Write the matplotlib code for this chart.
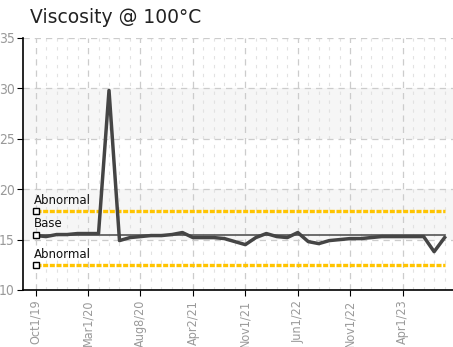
import numpy as np
import matplotlib.pyplot as plt
from matplotlib.ticker import MultipleLocator

# Data
viscosity = [15.4, 15.3, 15.5, 15.5, 15.6, 15.6, 15.6, 29.8, 14.9, 15.2,
             15.3, 15.4, 15.4, 15.5, 15.7, 15.2, 15.2, 15.2, 15.1, 14.8,
             14.5, 15.2, 15.6, 15.3, 15.2, 15.7, 14.8, 14.6, 14.9, 15.0,
             15.1, 15.1, 15.2, 15.3, 15.3, 15.3, 15.3, 15.3, 13.8, 15.2]
tick_labels = ["Oct1/19", "Mar1/20", "Aug8/20", "Apr2/21",
               "Nov1/21", "Jun1/22", "Nov1/22", "Apr1/23"]
base = 15.5
abnormal_high = 17.8
abnormal_low = 12.5

x = np.arange(len(viscosity))

fig = plt.figure(figsize=(4.53, 3.47), dpi=100)
ax = fig.add_axes([0.0508, 0.1643, 0.9492, 0.7262])

# alternating bands
for lo, hi in [(15, 20), (25, 30)]:
    ax.axhspan(lo, hi, color="#f6f6f6", zorder=0, lw=0)

ax.set_xlim(-1.2, 39.8)
ax.set_ylim(10, 35)
ax.yaxis.set_major_locator(MultipleLocator(5))
ax.set_xticks(x[::5])
ax.set_xticklabels(tick_labels, rotation=90, color="#999999",
                   fontsize=9, fontstretch="condensed")
ax.set_xticks(x, minor=True)
ax.set_yticks([10, 15, 20, 25, 30, 35])
ax.set_yticklabels(["10", "15", "20", "25", "30", "35"], color="#999999",
                   fontsize=10, fontstretch="condensed")
ax.tick_params(axis="y", length=4, color="black", pad=2)
ax.tick_params(axis="x", which="major", length=4, color="black", pad=3)
ax.tick_params(axis="x", which="minor", length=0)

ax.grid(True, axis="x", which="major", ls=(0, (5, 4)), color="#cccccc", lw=0.9)
ax.grid(True, axis="x", which="minor", ls=(0, (3, 5)), color="#e2e2e2", lw=0.8)
ax.grid(True, axis="y", which="major", ls=(0, (5, 4)), color="#cccccc", lw=0.9)
ax.set_axisbelow(True)

for s in ["top", "right"]:
    ax.spines[s].set_visible(False)
ax.spines["left"].set_linewidth(1.2)
ax.spines["bottom"].set_linewidth(1.2)

yellow = "#ffc400"
ax.plot(x, [abnormal_high] * len(x), color=yellow, lw=2.4, ls=(0, (1.5, 0.5)), zorder=2)
ax.plot(x, [abnormal_low] * len(x), color=yellow, lw=2.4, ls=(0, (1.5, 0.5)), zorder=2)
ax.plot(x, [base] * len(x), color="#555555", lw=1.2, zorder=2)
ax.plot(x, viscosity, color="#454545", lw=2.5, zorder=3)

for val, name in [(abnormal_high, "Abnormal"), (base, "Base"), (abnormal_low, "Abnormal")]:
    ax.plot([0], [val], marker="s", ms=4.5, mfc="white", mec="black", mew=1, zorder=4)
    ax.annotate(name, (0, val), xytext=(-1, 3), textcoords="offset points",
                fontsize=8.5, color="#111111", va="bottom", ha="left")

fig.text(0.066, 0.95, "Viscosity @ 100\u00b0C", fontsize=13.5, color="#222222",
         va="center", ha="left")

fig.savefig("out.png", dpi=100)
